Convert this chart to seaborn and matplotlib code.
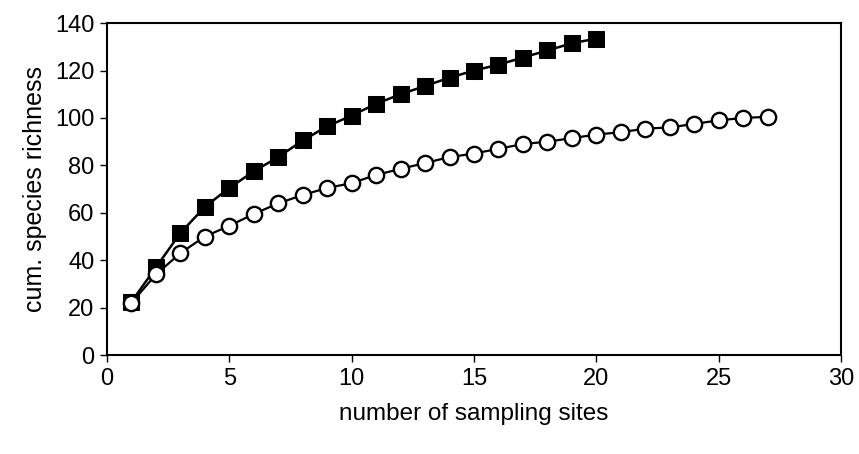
import matplotlib
import numpy as np
import pandas as pd
import seaborn as sns
from matplotlib import pyplot as plt

matplotlib.use("Agg")

# cumulative species richness
sites_squares = list(range(1, 21))
richness_squares = [22.5, 37, 51.5, 62.5, 70.5, 77.5, 83.5, 90.5, 96.5, 101,
                    106, 110, 113.5, 117, 120, 122.5, 125.5, 128.5, 131.5, 133.5]
sites_circles = list(range(1, 28))
richness_circles = [22, 34, 43, 50, 54.5, 59.5, 64, 67.5, 70.5, 72.5,
                    76, 78.5, 81, 83.5, 85, 87, 89, 90, 91.5, 93,
                    94, 95.5, 96, 97.5, 99, 100, 100.5]

df_sq = pd.DataFrame({"sites": sites_squares, "richness": richness_squares})
df_ci = pd.DataFrame({"sites": sites_circles, "richness": richness_circles})

sns.set_style("white", {"text.color": "black", "axes.labelcolor": "black",
                        "xtick.color": "black", "ytick.color": "black"})
plt.rcParams["font.family"] = ["Liberation Sans", "DejaVu Sans"]

fig = plt.figure(figsize=(8.59, 4.54), dpi=100)
ax = fig.add_axes([0.1246, 0.218, 0.979 - 0.1246, 0.949 - 0.218])

sns.lineplot(data=df_sq, x="sites", y="richness", ax=ax, color="black",
             linewidth=1.8, marker="s", markersize=12,
             markerfacecolor="black", markeredgecolor="black", zorder=2)
sns.lineplot(data=df_ci, x="sites", y="richness", ax=ax, color="black",
             linewidth=1.6, marker="o", markersize=11,
             markerfacecolor="white", markeredgecolor="black",
             markeredgewidth=1.7, zorder=3)

ax.set_xlim(0, 30)
ax.set_ylim(0, 140)
ax.set_xticks(np.arange(0, 31, 5))
ax.set_yticks(np.arange(0, 141, 20))
ax.tick_params(axis="both", direction="out", length=5, width=1,
               color="black", labelcolor="black", labelsize=17, pad=4,
               bottom=True, left=True)
for s in ax.spines.values():
    s.set_visible(True)
    s.set_color("black")
    s.set_linewidth(1.5)

ax.set_xlabel("number of sampling sites", fontsize=17.5, labelpad=10,
              color="black")
ax.set_ylabel("cum. species richness", fontsize=18, labelpad=6,
              color="black")

fig.savefig("out.png", dpi=100)
plt.close(fig)
